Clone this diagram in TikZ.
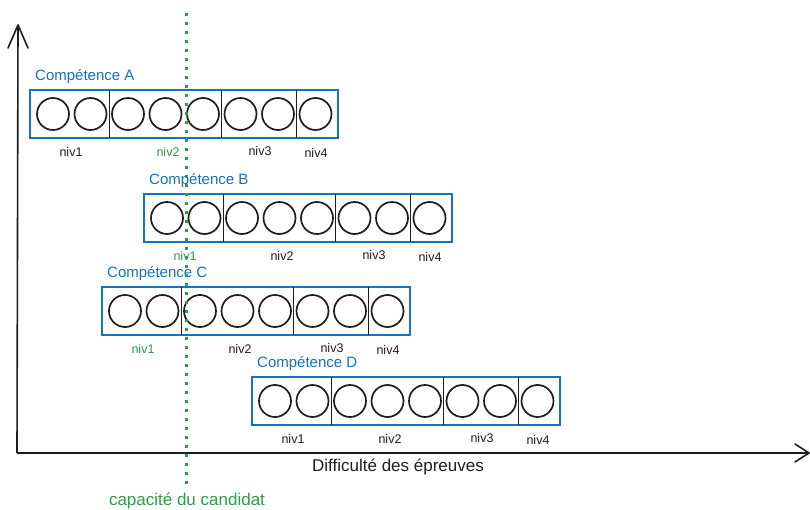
\documentclass[tikz,border=0pt]{standalone}
\usepackage{fontspec}
\setmainfont{Liberation Sans}
\usetikzlibrary{arrows.meta}

\definecolor{exblue}{HTML}{1971C2}
\definecolor{exgreen}{HTML}{2F9E44}
\definecolor{ink}{HTML}{1E1E1E}

\tikzset{
  skillbox/.style={draw=exblue, line width=1.8pt, minimum width=308pt,
    minimum height=48pt, inner sep=0pt, outer sep=0pt, anchor=north west},
  token/.style={circle, draw=ink, line width=1.7pt, minimum size=32pt, inner sep=0pt},
  divider/.style={draw=ink, line width=1.4pt},
  skilltitle/.style={text=exblue, font=\fontsize{15}{15}\selectfont, anchor=west, inner sep=0pt},
  lvl/.style={text=ink, font=\fontsize{12.5}{12.5}\selectfont, inner sep=0pt},
  lvlok/.style={lvl, text=exgreen},
  axisline/.style={draw=ink, line width=1.6pt},
  headline/.style={draw=ink, line width=1.6pt, line cap=round, line join=round},
  capline/.style={draw=exgreen, line width=3pt, dash pattern=on 3pt off 6pt},
  axistext/.style={text=ink, font=\fontsize{17}{17}\selectfont, inner sep=0pt},
  captext/.style={text=exgreen, font=\fontsize{17}{17}\selectfont, inner sep=0pt},
}

% one skill row: #1 name, #2 left x, #3 top y, #4 title, #5..#8 styles of the four level labels
\newcommand{\skillrow}[8]{%
  \node[skillbox] (box#1) at (#2,#3) {};
  \foreach \k in {0,...,7} {
    \node[token] (c#1\k) at ({#2+23+37.5*\k},{#3+24}) {};
  }
  \foreach \d/\off in {a/79.25, b/191.75, c/266.75} {
    \coordinate (d#1\d t) at ({#2+\off},#3);
    \coordinate (d#1\d b) at ({#2+\off},{#3+48});
    \draw[divider] (d#1\d t) -- (d#1\d b);
  }
  \node[skilltitle] (title#1) at ({#2+5},{#3-13}) {#4};
  \node[#5] (n#1a) at ({#2+41},{#3+62}) {niv1};
  \node[#6] (n#1b) at ({#2+138},{#3+62}) {niv2};
  \node[#7] (n#1c) at ({#2+230},{#3+61}) {niv3};
  \node[#8] (n#1d) at ({#2+286},{#3+63}) {niv4};
}

\begin{document}
\begin{tikzpicture}[x=1pt, y=-1pt]
  \useasboundingbox[fill=white] (0,0) rectangle (810,510);

  % axes
  \coordinate (origin) at (17,453);
  \coordinate (ytip) at (18,25);
  \coordinate (xtip) at (809,453);
  \draw[axisline] (origin) -- (ytip);
  \draw[axisline] (origin) -- (xtip);
  \coordinate (yl) at (8,48);
  \coordinate (yr) at (28,48);
  \draw[headline] (yl) -- (ytip) -- (yr);
  \coordinate (xu) at (795,444);
  \coordinate (xd) at (795,462);
  \draw[headline] (xu) -- (xtip) -- (xd);
  \node[axistext] (xlabel) at (398,467) {Difficulté des épreuves};

  % skill rows
  \skillrow{A}{30}{90}{Compétence A}{lvl}{lvlok}{lvl}{lvl}
  \skillrow{B}{144}{194}{Compétence B}{lvlok}{lvl}{lvl}{lvl}
  \skillrow{C}{102}{287}{Compétence C}{lvlok}{lvl}{lvl}{lvl}
  \skillrow{D}{252}{377}{Compétence D}{lvl}{lvl}{lvl}{lvl}

  % candidate level
  \coordinate (captop) at (186,13);
  \coordinate (capbot) at (186,490);
  \draw[capline] (captop) -- (capbot);
  \node[captext] (caplabel) at (187,501) {capacité du candidat};
\end{tikzpicture}
\end{document}
